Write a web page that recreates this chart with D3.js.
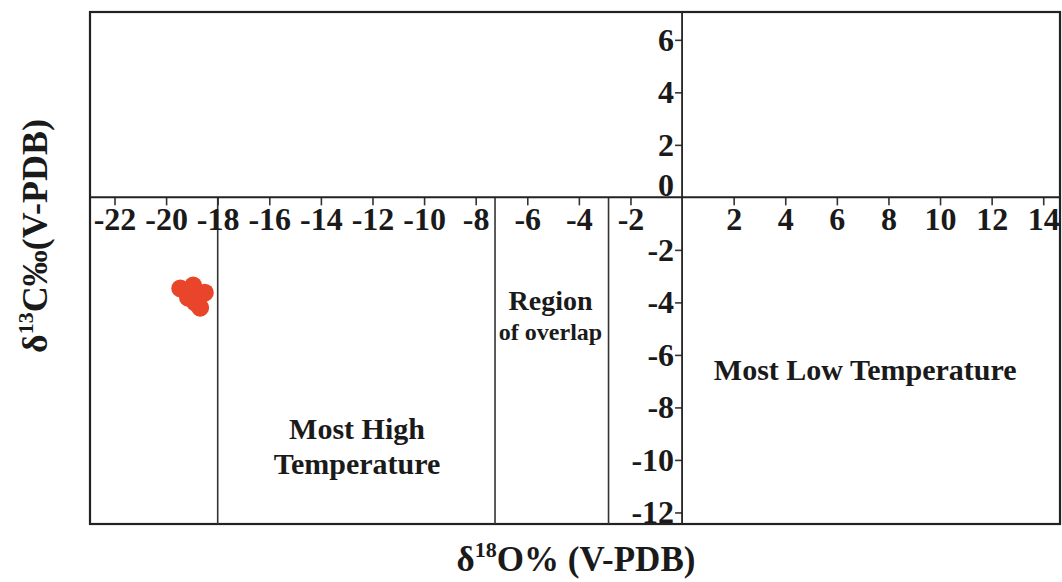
<!DOCTYPE html>
<html>
<head>
<meta charset="utf-8">
<script src="https://cdn.jsdelivr.net/npm/d3@7"></script>
<style>
  html, body { margin: 0; padding: 0; background: #fff; }
  svg { display: block; }
  text { font-family: "Liberation Serif", "Times New Roman", serif; font-weight: bold; fill: #1a1a1a; }
</style>
</head>
<body>
<svg id="chart" width="1062" height="582"></svg>
<script>
// Sample isotope values (δ18O, δ13C)
const d18O = [-19.45, -18.95, -18.5, -19.15, -18.88, -18.68];
const d13C = [-3.47, -3.36, -3.63, -3.82, -4.0, -4.2];

// Tick values
const xTicks = [-22, -20, -18, -16, -14, -12, -10, -8, -6, -4, -2, 2, 4, 6, 8, 10, 12, 14];
const yTicks = [6, 4, 2, 0, -2, -4, -6, -8, -10, -12];

// Temperature field boundaries on the δ18O axis
const boundaries = [-18, -7.25, -2.85];

// Field labels: [δ18O, δ13C, text, size]
const fieldLabels = [
  [-12.6, -9.2, "Most High", 30],
  [-12.6, -10.55, "Temperature", 30],
  [-5.1, -4.3, "Region", 28],
  [-5.1, -5.45, "of overlap", 24],
  [7.1, -6.95, "Most Low Temperature", 30]
];

const svg = d3.select("#chart");
const plotL = 90, plotR = 1060, plotT = 12, plotB = 524;

const x = d3.scaleLinear().domain([-22.95, 14.65]).range([plotL, plotR]);
const y = d3.scaleLinear().domain([7.06, -12.44]).range([plotT, plotB]);

// Outer frame
svg.append("rect")
  .attr("x", plotL).attr("y", plotT)
  .attr("width", plotR - plotL).attr("height", plotB - plotT)
  .attr("fill", "none").attr("stroke", "#222").attr("stroke-width", 2.2);

// Field boundaries (below the zero line)
svg.selectAll("line.bound").data(boundaries).join("line")
  .attr("class", "bound")
  .attr("x1", d => x(d)).attr("x2", d => x(d))
  .attr("y1", y(0)).attr("y2", plotB)
  .attr("stroke", "#333").attr("stroke-width", 1.6);

// Horizontal axis through δ13C = 0
const xAxis = d3.axisBottom(x).tickValues(xTicks).tickSize(8).tickPadding(2).tickFormat(d3.format("d"));
const gx = svg.append("g").attr("transform", `translate(0,${y(0)})`).call(xAxis);
gx.select(".domain").remove();
svg.append("line").attr("x1", plotL).attr("x2", plotR).attr("y1", y(0)).attr("y2", y(0))
  .attr("stroke", "#222").attr("stroke-width", 2);
gx.selectAll(".tick line").attr("stroke", "#333").attr("stroke-width", 1.6);
gx.selectAll(".tick text").attr("font-size", 32).attr("fill", "#1a1a1a")
  .text(d => d < 0 ? "-" + Math.abs(d) : d);

// Vertical axis through δ18O = 0
const yAxis = d3.axisLeft(y).tickValues(yTicks).tickSize(7).tickPadding(1);
const gy = svg.append("g").attr("transform", `translate(${x(0)},0)`).call(yAxis);
gy.select(".domain").remove();
svg.append("line").attr("x1", x(0)).attr("x2", x(0)).attr("y1", plotT).attr("y2", plotB)
  .attr("stroke", "#222").attr("stroke-width", 1.8);
gy.selectAll(".tick line").attr("stroke", "#333").attr("stroke-width", 1.6)
  .attr("display", d => d === 0 ? "none" : null);
gy.selectAll(".tick text").attr("font-size", 32).attr("fill", "#1a1a1a")
  .attr("dy", d => d === 0 ? "-0.05em" : "0.32em")
  .text(d => d < 0 ? "-" + Math.abs(d) : d);

// Field labels
svg.selectAll("text.field").data(fieldLabels).join("text")
  .attr("class", "field")
  .attr("x", d => x(d[0])).attr("y", d => y(d[1]))
  .attr("text-anchor", "middle")
  .attr("font-size", d => d[3])
  .text(d => d[2]);

// Samples
svg.selectAll("circle.sample").data(d18O).join("circle")
  .attr("class", "sample")
  .attr("cx", d => x(d)).attr("cy", (d, i) => y(d13C[i]))
  .attr("r", 9)
  .attr("fill", "#e9452b");

// Axis titles
const xt = svg.append("text").attr("x", 576).attr("y", 571).attr("text-anchor", "middle").attr("font-size", 35);
xt.append("tspan").text("δ");
xt.append("tspan").attr("font-size", 22).attr("dy", -14).text("18");
xt.append("tspan").attr("dy", 14).text("O% (V-PDB)");

const yt = svg.append("text").attr("transform", "translate(47,236) rotate(-90)").attr("text-anchor", "middle").attr("font-size", 36);
yt.append("tspan").text("δ");
yt.append("tspan").attr("font-size", 22).attr("dy", -14).text("13");
yt.append("tspan").attr("dy", 14).text("C‰(V-PDB)");
</script>
</body>
</html>
